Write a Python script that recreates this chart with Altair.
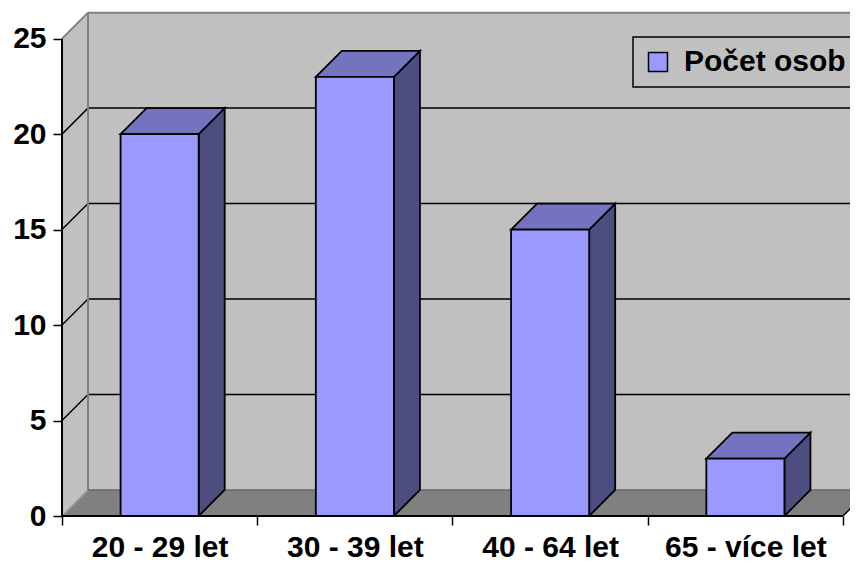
import json
import altair as alt
import pandas as pd

# ---- data ----
categories = ["20 - 29 let", "30 - 39 let", "40 - 64 let", "65 - více let"]
values = [20, 23, 15, 3]
y_ticks = [0, 5, 10, 15, 20, 25]
series_name = "Počet osob"

# ---- geometry / style constants ----
W, H = 788, 506
X_MAX = 788 / 195.25
Y_MAX = 26.5
DEPTH_PX = 26
dx = DEPTH_PX * X_MAX / W
dy = DEPTH_PX * Y_MAX / H
n = len(categories)
top = y_ticks[-1]
half = 0.2
FONT = "Liberation Sans"

xs = alt.Scale(domain=[0, X_MAX], nice=False, zero=False)
ys = alt.Scale(domain=[0, Y_MAX], nice=False, zero=False)

x_axis = alt.Axis(
    values=[i * 0.5 for i in range(2 * n + 1)],
    labelExpr="datum.value % 1 == 0.5 ? " + json.dumps(categories, ensure_ascii=False)
    + "[floor(datum.value)] : ''",
    tickSize=9, tickColor="black", tickWidth=1.5,
    tickOpacity={"condition": {"test": "datum.value % 1 == 0", "value": 1}, "value": 0},
    labelFontSize=30, labelFont=FONT, labelFontWeight="bold", labelColor="black",
    labelPadding=7, labelOverlap=False, labelFlush=False,
    domain=False, grid=False, title=None,
)
y_axis = alt.Axis(
    values=y_ticks, tickSize=9, tickColor="black", tickWidth=1.5,
    labelFontSize=30, labelFont=FONT, labelFontWeight="bold", labelColor="black",
    labelPadding=7, domain=False, grid=False, title=None,
)


def X(f="x"):
    return alt.X(f + ":Q", scale=xs, axis=x_axis)


def Y(f="y"):
    return alt.Y(f + ":Q", scale=ys, axis=y_axis, stack=None)


def segs(rows):
    return pd.DataFrame(rows, columns=["x", "x2", "y", "y2"])


def rules(rows, color, width, clip=True):
    return alt.Chart(segs(rows)).mark_rule(color=color, strokeWidth=width, clip=clip).encode(
        x=X(), x2="x2:Q", y=Y(), y2="y2:Q")


def polys(rows, fill, stroke=None, width=1.5, clip=True):
    df = pd.DataFrame(rows, columns=["id", "x", "y", "y2"])
    kw = dict(fill=fill, clip=clip, opacity=1, orient="vertical")
    if stroke:
        kw.update(stroke=stroke, strokeWidth=width, strokeJoin="miter")
    return alt.Chart(df).mark_area(**kw).encode(
        x=X(), y=Y(), y2="y2:Q", detail="id:N")


# back wall
back_wall = alt.Chart(segs([[dx, n + dx, dy, top + dy]])).mark_rect(
    fill="#c0c0c0", clip=True).encode(x=X(), x2="x2:Q", y=Y(), y2="y2:Q")
# side wall
side_wall = polys([[0, 0, 0, top], [0, dx, dy, top + dy]], "#c0c0c0")
# gridlines
grid_back = rules([[dx, n + dx, v + dy, v + dy] for v in y_ticks[1:-1]], "black", 1.5)
grid_side = rules([[0, dx, v, v + dy] for v in y_ticks[1:-1]], "black", 1.5)
wall_edges = rules([[dx, dx, dy, top + dy], [dx, n + dx, top + dy, top + dy],
                    [0, dx, top, top + dy]], "#808080", 2)
# floor
floor = polys([[0, 0, 0, 0], [0, dx, 0, dy], [0, n, 0, dy], [0, n + dx, dy, dy]], "#808080")
floor_back = rules([[dx, n + dx, dy, dy]], "#6a6a6a", 1.5)
floor_left = rules([[0, dx, 0, dy]], "#9a9a9a", 1.5)
floor_right = rules([[n, n + dx, 0, dy]], "black", 1.5)

# bars
side_rows, top_rows = [], []
front_rows = []
for i, v in enumerate(values):
    x0, x1 = i + 0.5 - half, i + 0.5 + half
    side_rows += [[i, x1, 0, v], [i, x1 + dx, dy, v + dy]]
    top_rows += [[i, x0, v, v], [i, x0 + dx, v, v + dy], [i, x1, v, v + dy],
                 [i, x1 + dx, v + dy, v + dy]]
    front_rows.append({"x": x0, "x2": x1, "y": 0, "y2": v, "series": series_name})

bar_side = polys(side_rows, "#4d4d80", "black", 1.8)
bar_top = polys(top_rows, "#7373bf", "black", 1.8)
bar_front = alt.Chart(pd.DataFrame(front_rows)).mark_rect(
    stroke="black", strokeWidth=1.8, opacity=1).encode(
    x=X(), x2="x2:Q", y=Y(), y2="y2:Q",
    color=alt.Color("series:N",
                    scale=alt.Scale(domain=[series_name], range=["#9999ff"]),
                    legend=alt.Legend(orient="none", legendX=571, legendY=27, title=None,
                                      labelLimit=400)),
)

# front axis lines
axis_lines = rules([[0, n, 0, 0], [0, 0, 0, top]], "black", 2, clip=False)

chart = alt.layer(
    back_wall, side_wall, grid_back, grid_side, wall_edges,
    floor, floor_back, floor_left, floor_right,
    bar_side, bar_top, bar_front, axis_lines,
).properties(
    width=W, height=H,
    padding={"left": 54, "top": 2, "right": 0, "bottom": 47},
    autosize=alt.AutoSizeParams(type="none"),
    background="white",
).configure(font=FONT).configure_view(strokeWidth=0).configure_legend(
    fillColor="#c0c0c0", strokeColor="black", strokeWidth=1.5, padding=10,
    labelFontSize=30, labelFont=FONT, labelFontWeight="bold", labelColor="black",
    symbolType="square", symbolSize=361, symbolStrokeColor="black",
    symbolStrokeWidth=1.5, symbolOpacity=1, labelOffset=11, cornerRadius=0,
    labelLimit=400,
)

chart.save("out.html", embed_options={"renderer": "svg", "actions": False})
